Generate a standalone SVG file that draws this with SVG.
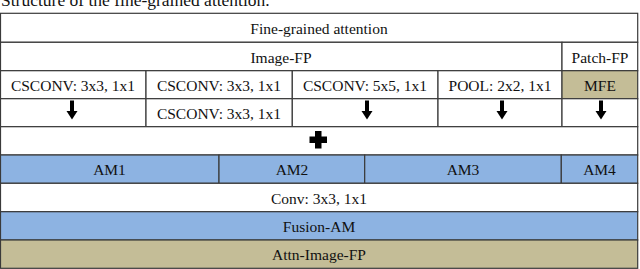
<svg xmlns="http://www.w3.org/2000/svg" width="640" height="269" viewBox="0 0 640 269">
  <style>
    text { font-family: "Liberation Serif", "Times New Roman", serif; font-size: 15.5px; fill: #111; text-anchor: middle; }
    .cap { text-anchor: start; font-size: 17.5px; }
    .cell { fill: #ffffff; stroke: #3a3a3a; stroke-width: 1.2; }
    .blue { fill: #8db3e2; stroke: #3a3a3a; stroke-width: 1.2; }
    .tan { fill: #c4bd97; stroke: #3a3a3a; stroke-width: 1.2; }
    .arr { stroke: #000; stroke-width: 4; fill: none; marker-end: url(#head); }
  </style>
  <defs>
    <marker id="head" markerUnits="userSpaceOnUse" markerWidth="10" markerHeight="11" refX="0" refY="5.5" orient="auto" overflow="visible">
      <path d="M0,0 L8.5,5.5 L0,11 Z" fill="#000"/>
    </marker>
  </defs>

  <text class="cap" x="1" y="5.5">Structure of the fine-grained attention.</text>

  <g id="fine-grained-attention">
    <rect class="cell" x="0.5" y="13.3" width="637.2" height="29"/>
    <text x="319" y="34.3">Fine-grained attention</text>
  </g>
  <g id="image-fp">
    <rect class="cell" x="0.5" y="42.3" width="561.5" height="28.4"/>
    <text x="281" y="62.5">Image-FP</text>
  </g>
  <g id="patch-fp">
    <rect class="cell" x="562" y="42.3" width="75.7" height="28.4"/>
    <text x="600" y="62.5">Patch-FP</text>
  </g>

  <g id="csconv-1">
    <rect class="cell" x="0.5" y="70.7" width="145.5" height="28"/>
    <text x="73" y="90.7">CSCONV: 3x3, 1x1</text>
  </g>
  <g id="csconv-2">
    <rect class="cell" x="146" y="70.7" width="146.3" height="28"/>
    <text x="219" y="90.7">CSCONV: 3x3, 1x1</text>
  </g>
  <g id="csconv-3">
    <rect class="cell" x="292.3" y="70.7" width="145.7" height="28"/>
    <text x="365" y="90.7">CSCONV: 5x5, 1x1</text>
  </g>
  <g id="pool">
    <rect class="cell" x="438" y="70.7" width="124" height="28"/>
    <text x="500" y="90.7">POOL: 2x2, 1x1</text>
  </g>
  <g id="mfe">
    <rect class="tan" x="562" y="70.7" width="75.7" height="28"/>
    <text x="600" y="90.7">MFE</text>
  </g>

  <g id="row4-1"><rect class="cell" x="0.5" y="98.7" width="145.5" height="28"/></g>
  <g id="csconv-2b">
    <rect class="cell" x="146" y="98.7" width="146.3" height="28"/>
    <text x="219" y="119">CSCONV: 3x3, 1x1</text>
  </g>
  <g id="row4-3"><rect class="cell" x="292.3" y="98.7" width="145.7" height="28"/></g>
  <g id="row4-4"><rect class="cell" x="438" y="98.7" width="124" height="28"/></g>
  <g id="row4-5"><rect class="cell" x="562" y="98.7" width="75.7" height="28"/></g>

  <g id="plus-row">
    <rect class="cell" x="0.5" y="126.7" width="637.2" height="28.3"/>
    <path d="M315,131 h6.5 v5.5 h5.5 v6.5 h-5.5 v5.5 h-6.5 v-5.5 h-5.5 v-6.5 h5.5 Z" fill="#000"/>
  </g>

  <g id="am1">
    <rect class="blue" x="0.5" y="155" width="218.5" height="28.3"/>
    <text x="109.5" y="175.3">AM1</text>
  </g>
  <g id="am2">
    <rect class="blue" x="219" y="155" width="145.7" height="28.3"/>
    <text x="292" y="175.3">AM2</text>
  </g>
  <g id="am3">
    <rect class="blue" x="364.7" y="155" width="196.6" height="28.3"/>
    <text x="463" y="175.3">AM3</text>
  </g>
  <g id="am4">
    <rect class="blue" x="561.3" y="155" width="76.4" height="28.3"/>
    <text x="599.5" y="175.3">AM4</text>
  </g>

  <g id="conv">
    <rect class="cell" x="0.5" y="183.3" width="637.2" height="28.4"/>
    <text x="319" y="203.5">Conv: 3x3, 1x1</text>
  </g>
  <g id="fusion-am">
    <rect class="blue" x="0.5" y="211.7" width="637.2" height="28.3"/>
    <text x="319" y="231.8">Fusion-AM</text>
  </g>
  <g id="attn-image-fp">
    <rect class="tan" x="0.5" y="240" width="637.2" height="28.3"/>
    <text x="319" y="260.2">Attn-Image-FP</text>
  </g>

  <g id="connectors">
    <line class="arr" x1="72" y1="100.5" x2="72" y2="111"/>
    <line class="arr" x1="367" y1="100.5" x2="367" y2="111"/>
    <line class="arr" x1="502" y1="100.5" x2="502" y2="111"/>
    <line class="arr" x1="601" y1="100.5" x2="601" y2="111"/>
  </g>
</svg>
